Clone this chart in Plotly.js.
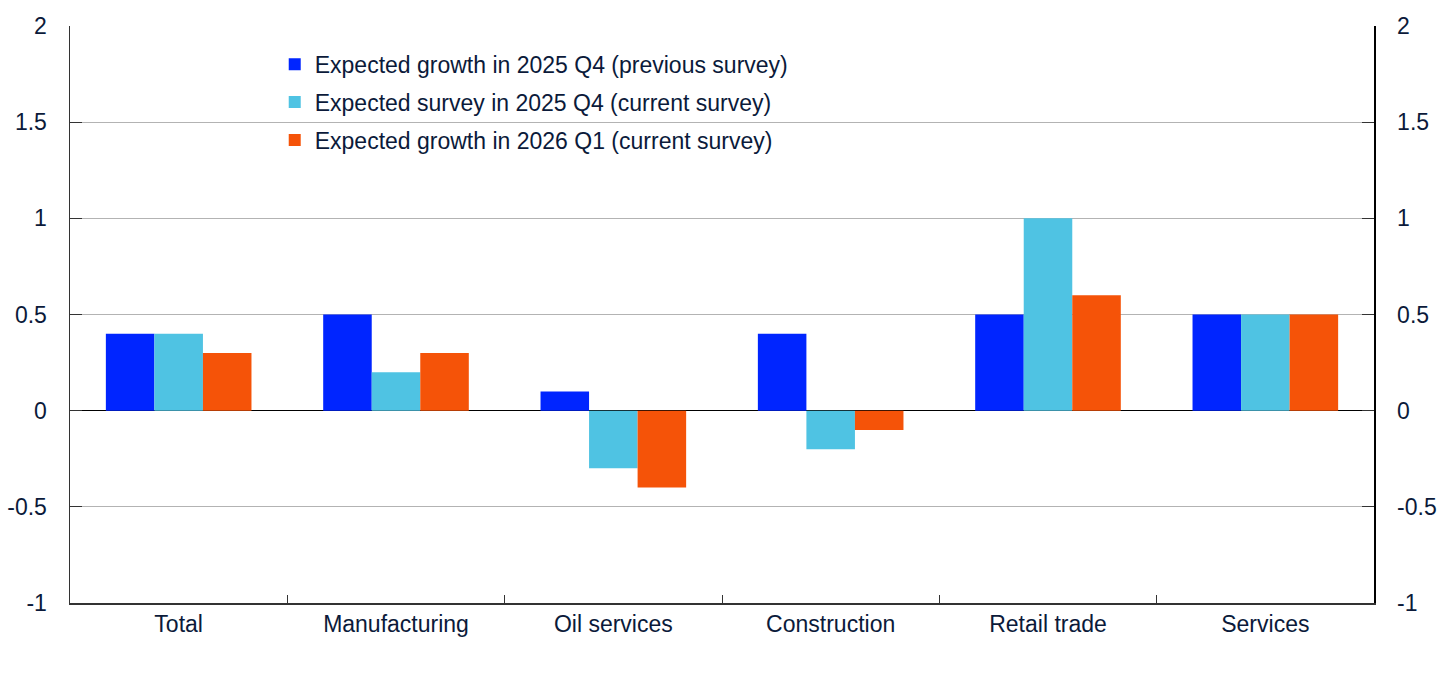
<!DOCTYPE html>
<html>
<head>
<meta charset="utf-8">
<script src="https://cdn.plot.ly/plotly-3.0.1.min.js"></script>
<style>html,body{margin:0;padding:0;background:#fff;}#chart{width:1445px;height:673px;}</style>
</head>
<body>
<div id="chart"></div>
<script>
const categories = ["Total", "Manufacturing", "Oil services", "Construction", "Retail trade", "Services"];
const seriesNames = [
  "Expected growth in 2025 Q4 (previous survey)",
  "Expected survey in 2025 Q4 (current survey)",
  "Expected growth in 2026 Q1 (current survey)"
];
const prevQ4 = [0.4, 0.5, 0.1, 0.4, 0.5, 0.5];
const currQ4 = [0.4, 0.2, -0.3, -0.2, 1.0, 0.5];
const currQ1 = [0.3, 0.3, -0.4, -0.1, 0.6, 0.5];
const yTicks = [-1, -0.5, 0, 0.5, 1, 1.5, 2];
const yTickText = ["-1", "-0.5", "0", "0.5", "1", "1.5", "2"];

const colors = ["#0025ff", "#4fc3e3", "#f55308"];
const seriesValues = [prevQ4, currQ4, currQ1];
const font = {family: "Liberation Sans, Arial, sans-serif", size: 23, color: "#0b1a3a"};

const traces = seriesValues.map((vals, i) => ({
  type: "bar", name: seriesNames[i], x: categories, y: vals, legendgroup: "g" + i,
  marker: {color: colors[i], line: {width: 0}}
}));
traces.push({type: "scatter", mode: "none", x: categories, y: categories.map(() => null),
  yaxis: "y2", showlegend: false, hoverinfo: "skip"});

const yBase = {
  range: [-1, 2], tickvals: yTicks, ticktext: yTickText, ticks: "inside", ticklen: 12,
  tickcolor: "#333", showline: true, linecolor: "#333", linewidth: 1.5,
  showgrid: true, gridcolor: "#b3b3b3", gridwidth: 1, zeroline: true, zerolinecolor: "#000",
  zerolinewidth: 1.5, tickfont: font, fixedrange: true, ticklabelstandoff: 17
};

const layout = {
  width: 1445, height: 673,
  margin: {l: 70, r: 71, t: 26, b: 70},
  paper_bgcolor: "#fff", plot_bgcolor: "#fff",
  barmode: "group", bargap: 0.33, bargroupgap: 0,
  font: font,
  showlegend: true,
  legend: {x: 0.157, y: 0.971, xanchor: "left", yanchor: "top", font: font,
    bgcolor: "rgba(0,0,0,0)", itemwidth: 30, tracegroupgap: 5, traceorder: "grouped"},
  xaxis: {type: "category", tickson: "boundaries", ticks: "inside", ticklen: 8, tickcolor: "#333",
    showline: true, linecolor: "#333", linewidth: 1.5, showgrid: false, tickfont: font, fixedrange: true},
  yaxis: Object.assign({}, yBase, {side: "left"}),
  yaxis2: Object.assign({}, yBase, {side: "right", overlaying: "y", anchor: "x", showgrid: false,
    zeroline: false, linecolor: "#000", tickcolor: "#333"})
};

Plotly.newPlot("chart", traces, layout, {displayModeBar: false, staticPlot: true});
</script>
</body>
</html>
